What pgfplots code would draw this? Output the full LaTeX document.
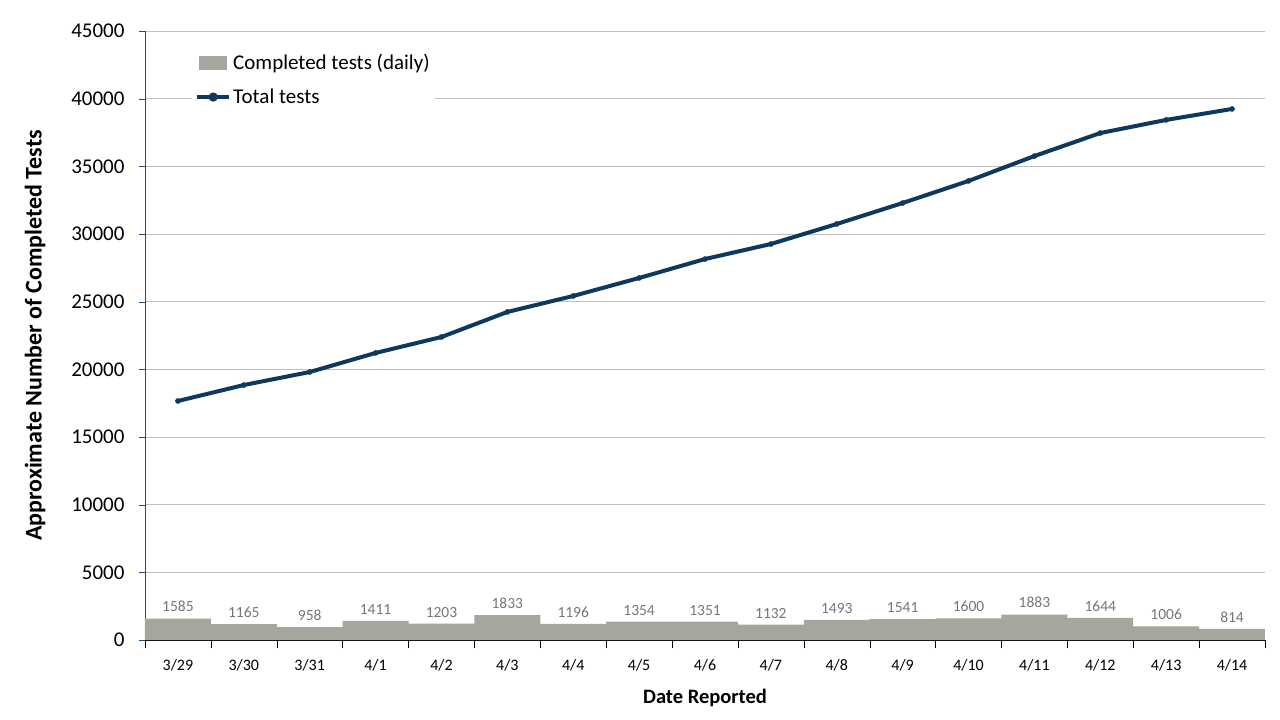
\documentclass[border=0pt]{standalone}
\usepackage{fontspec}
\setmainfont{Carlito}
\usepackage{pgfplots}
\pgfplotsset{compat=1.18}
\definecolor{barfill}{RGB}{166,166,158}
\definecolor{linecol}{RGB}{14,57,95}
\definecolor{labgray}{RGB}{118,118,118}
\definecolor{gridgray}{RGB}{191,191,191}
\definecolor{yaxcol}{RGB}{31,78,121}
\begin{document}
\begin{tikzpicture}[x=1bp,y=1bp]
\begin{axis}[
    scale only axis,
    width=1120bp, height=609bp,
    xmin=-0.5, xmax=16.5,
    ymin=0, ymax=45000,
    ytick={0,5000,...,45000},
    xtick={0,...,16},
    xticklabels={3/29,3/30,3/31,4/1,4/2,4/3,4/4,4/5,4/6,4/7,4/8,4/9,4/10,4/11,4/12,4/13,4/14},
    major x tick style={draw=none},
    minor xtick={-0.5,0.5,...,16.5},
    minor x tick style={black, thin},
    minor tick length=8bp,
    tick align=outside,
    major tick length=6bp,
    ymajorgrids,
    grid style={gridgray, line width=0.75pt},
    axis x line*=bottom,
    axis y line*=left,
    x axis line style={black, line width=0.8pt, -},
    y axis line style={yaxcol, line width=0.8pt, -},
    ytick style={yaxcol},
    scaled y ticks=false,
    /pgf/number format/.cd, set thousands separator={}, assume math mode=true,
    /pgfplots/.cd,
    yticklabel style={font=\fontsize{21bp}{24bp}\selectfont, xshift=-11bp},
    xticklabel style={font=\fontsize{16bp}{19bp}\selectfont, yshift=-10bp},
    ylabel={\bfseries Approximate Number of Completed Tests},
    ylabel style={font=\fontsize{24bp}{28bp}\selectfont,
        at={(axis description cs:-0.0982,0.5)}, anchor=center},
    xlabel={\bfseries Date Reported},
    xlabel style={font=\fontsize{20.5bp}{24bp}\selectfont,
        at={(axis description cs:0.5,-0.095)}, anchor=center},
    legend style={at={(0.042,0.977)}, anchor=north west, draw=none, fill=white,
        font=\fontsize{21bp}{24bp}\selectfont, inner xsep=3bp, inner ysep=7bp,
        row sep=14bp, cells={anchor=west}},
    clip=false,
]
\addplot[ybar, bar width=1, bar shift=0, fill=barfill, draw=none,
    nodes near coords,
    nodes near coords style={labgray, font=\fontsize{15.5bp}{18bp}\selectfont, yshift=3bp},
    point meta=explicit symbolic,
    legend image code/.code={\fill[barfill] (0bp,-7bp) rectangle (28bp,7bp);}]
coordinates {
 (0,1585) [1585] (1,1165) [1165] (2,958) [958] (3,1411) [1411] (4,1203) [1203]
 (5,1833) [1833] (6,1196) [1196] (7,1354) [1354] (8,1351) [1351] (9,1132) [1132]
 (10,1493) [1493] (11,1541) [1541] (12,1600) [1600] (13,1883) [1883] (14,1644) [1644]
 (15,1006) [1006] (16,814) [814]
};
\addlegendentry{Completed tests (daily)}
\addplot[linecol, line width=4bp, mark=*, mark size=2.5bp,
    mark options={fill=linecol, line width=0.5bp},
    legend image code/.code={\draw[linecol, line width=4bp] (-2bp,0bp) -- (30bp,0bp);
        \fill[linecol] (14bp,0bp) circle (2.5bp);}]
coordinates {
 (0,17660) (1,18840) (2,19800) (3,21210) (4,22390) (5,24240) (6,25420)
 (7,26750) (8,28150) (9,29260) (10,30740) (11,32290) (12,33920)
 (13,35760) (14,37460) (15,38430) (16,39240)
};
\addlegendentry{Total tests}
\end{axis}
\useasboundingbox (current axis.south west) ++(-145bp,-80bp) rectangle ++(1280bp,720bp);
\end{tikzpicture}
\end{document}
